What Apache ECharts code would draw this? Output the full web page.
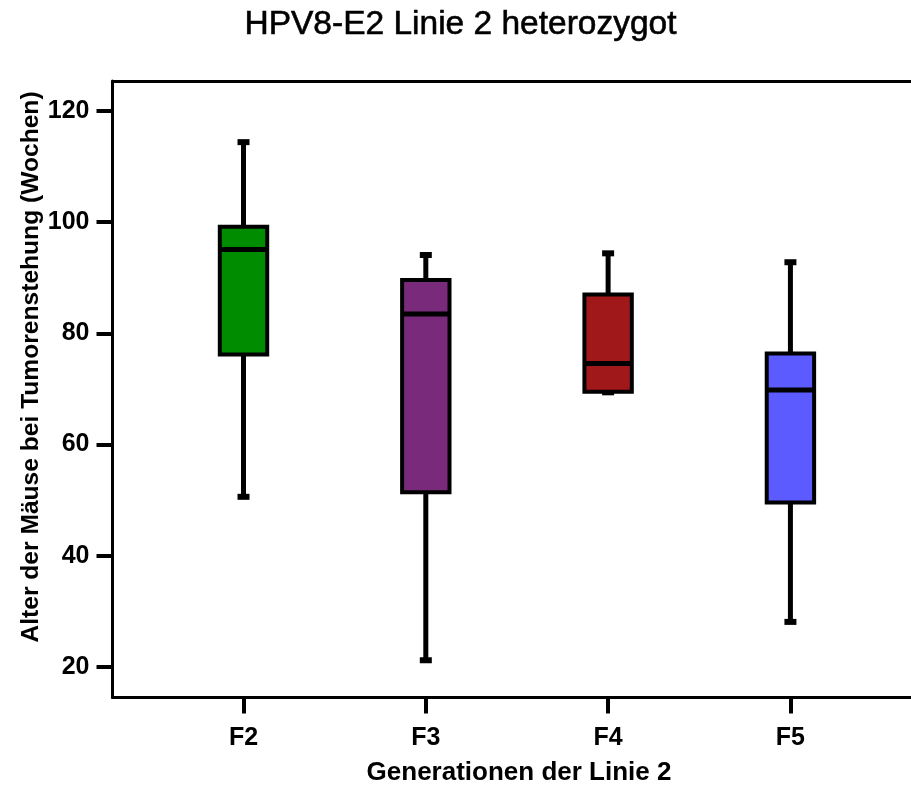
<!DOCTYPE html>
<html>
<head>
<meta charset="utf-8">
<script src="https://cdn.jsdelivr.net/npm/echarts@6/dist/echarts.min.js"></script>
<style>
  html, body { margin: 0; padding: 0; background: #fff; }
  #chart { width: 911px; height: 789px; }
</style>
</head>
<body>
<div id="chart"></div>
<script>
// Werte (Wochen)
const categories = ["F2", "F3", "F4", "F5"];
const lowValues = [50.6, 21.2, 69.4, 28.1];
const q1Values = [76.2, 51.4, 69.5, 49.6];
const medianValues = [95.1, 83.5, 74.6, 69.8];
const q3Values = [99.2, 89.6, 87.0, 76.4];
const highValues = [114.4, 94.1, 94.4, 92.8];
const yTicks = [20, 40, 60, 80, 100, 120];

const boxColors = ["#008c00", "#7a2a7a", "#a0181a", "#5b5bff"];
const font = "Liberation Sans, Arial, sans-serif";

const boxData = categories.map((c, i) => [
  i, lowValues[i], q1Values[i], medianValues[i], q3Values[i], highValues[i]
]);

function renderBox(params, api) {
  const x = api.value(0);
  const low = api.coord([x, api.value(1)]);
  const q1 = api.coord([x, api.value(2)]);
  const med = api.coord([x, api.value(3)]);
  const q3 = api.coord([x, api.value(4)]);
  const high = api.coord([x, api.value(5)]);
  const halfW = api.size([0.26, 0])[0] / 2;
  const capW = 12;
  const capH = 6;
  const cx = low[0];
  const line = { stroke: "#000", lineWidth: 5 };
  return {
    type: "group",
    children: [
      { type: "line", shape: { x1: cx, y1: low[1], x2: cx, y2: q1[1] }, style: line },
      { type: "line", shape: { x1: cx, y1: q3[1], x2: cx, y2: high[1] }, style: line },
      {
        type: "rect",
        shape: { x: cx - capW / 2, y: low[1] - capH / 2, width: capW, height: capH },
        style: { fill: "#000" }
      },
      {
        type: "rect",
        shape: { x: cx - capW / 2, y: high[1] - capH / 2, width: capW, height: capH },
        style: { fill: "#000" }
      },
      {
        type: "rect",
        shape: { x: cx - halfW, y: q3[1], width: halfW * 2, height: q1[1] - q3[1] },
        style: { fill: boxColors[params.dataIndex], stroke: "#000", lineWidth: 4 }
      },
      {
        type: "line",
        shape: { x1: cx - halfW, y1: med[1], x2: cx + halfW, y2: med[1] },
        style: { stroke: "#000", lineWidth: 5 }
      }
    ]
  };
}

const frameLine = { show: true, onZero: false, lineStyle: { color: "#000", width: 3 } };
const xMin = -0.7186;
const xMax = 3.6614;

const chart = echarts.init(document.getElementById("chart"));
chart.setOption({
  animation: false,
  backgroundColor: "#fff",
  grid: {
    left: 112.5,
    right: 0,
    top: 81,
    bottom: 91.5
  },
  xAxis: [
    {
      type: "value",
      position: "bottom",
      min: xMin,
      max: xMax,
      axisLine: frameLine,
      splitLine: { show: false },
      axisTick: {
        show: true,
        customValues: [0, 1, 2, 3],
        length: 16,
        lineStyle: { color: "#000", width: 4 }
      },
      axisLabel: {
        customValues: [0, 1, 2, 3],
        formatter: (v) => categories[Math.round(v)],
        margin: 28,
        color: "#000",
        fontFamily: font,
        fontWeight: "bold",
        fontSize: 25
      }
    },
    {
      type: "value",
      position: "top",
      min: xMin,
      max: xMax,
      axisLine: frameLine,
      splitLine: { show: false },
      axisTick: { show: false },
      axisLabel: { show: false }
    }
  ],
  yAxis: {
    type: "value",
    position: "left",
    min: 14.5,
    max: 125.4,
    axisLine: frameLine,
    splitLine: { show: false },
    axisTick: {
      show: true,
      customValues: yTicks,
      length: 16,
      lineStyle: { color: "#000", width: 4 }
    },
    axisLabel: {
      customValues: yTicks,
      margin: 23,
      color: "#000",
      fontFamily: font,
      fontWeight: "bold",
      fontSize: 25
    }
  },
  graphic: [
    {
      type: "text",
      x: 460.5,
      y: 25,
      style: {
        text: "HPV8-E2 Linie 2 heterozygot",
        fill: "#000",
        stroke: "#000",
        lineWidth: 0.6,
        font: "normal 33.5px " + font,
        align: "center",
        verticalAlign: "middle"
      }
    },
    {
      type: "text",
      x: 31,
      y: 367,
      rotation: Math.PI / 2,
      style: {
        text: "Alter der Mäuse bei Tumorenstehung (Wochen)",
        fill: "#000",
        font: "bold 24.6px " + font,
        align: "center",
        verticalAlign: "middle"
      }
    },
    {
      type: "text",
      x: 519,
      y: 773,
      style: {
        text: "Generationen der Linie 2",
        fill: "#000",
        font: "bold 26px " + font,
        align: "center",
        verticalAlign: "middle"
      }
    }
  ],
  series: [
    {
      type: "custom",
      xAxisIndex: 0,
      renderItem: renderBox,
      data: boxData,
      encode: { x: 0, y: [1, 2, 3, 4, 5] },
      clip: false
    }
  ]
});
</script>
</body>
</html>
